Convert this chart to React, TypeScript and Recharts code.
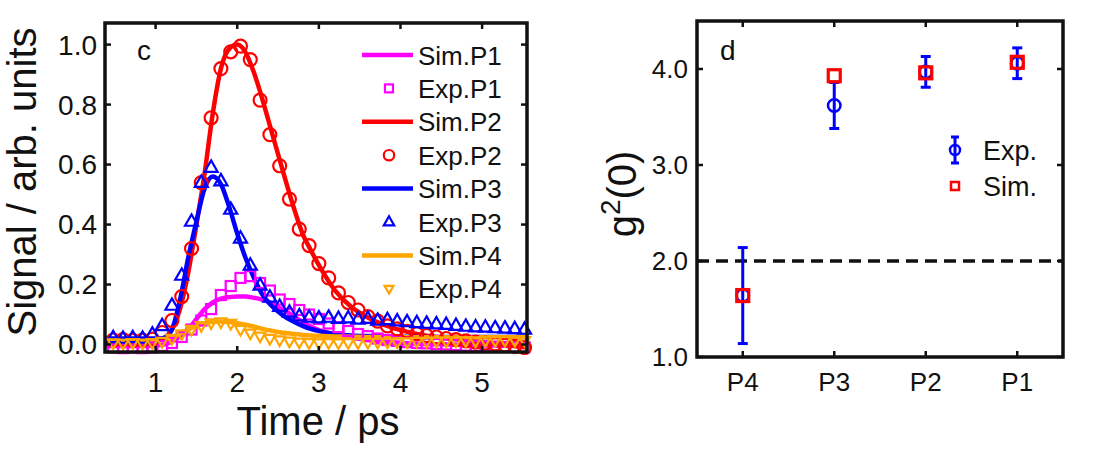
import React from "react";
import { ComposedChart, Line, Scatter, XAxis, YAxis, ReferenceLine, ErrorBar } from "recharts";

const FONT = '"Liberation Sans", Arial, Helvetica, sans-serif';
const INK = "#111";
const MAGENTA = "#ff00ff";
const RED = "#ff0000";
const BLUE = "#0000ff";
const ORANGE = "#ffa500";

// panel c: simulated traces (time in ps)
const simTime = [
  0.38, 0.8, 1.0, 1.1, 1.2, 1.3, 1.4, 1.5, 1.6, 1.7, 1.8, 1.9, 2.0, 2.1, 2.2, 2.3,
  2.4, 2.5, 2.6, 2.7, 2.8, 2.9, 3.0, 3.2, 3.4, 3.6, 3.8, 4.0, 4.3, 4.6, 5.0, 5.55,
];
const simP1 = [
  -0.005, -0.005, -0.003, 0, 0.01, 0.028, 0.05, 0.085, 0.118, 0.14, 0.153, 0.158,
  0.16, 0.16, 0.156, 0.15, 0.14, 0.125, 0.11, 0.092, 0.075, 0.06, 0.048, 0.033,
  0.022, 0.015, 0.01, 0.006, 0.002, 0, -0.003, -0.005,
];
const simP2 = [
  0.01, 0.01, 0.012, 0.02, 0.05, 0.12, 0.24, 0.4, 0.57, 0.77, 0.92, 0.985, 1.0,
  0.975, 0.91, 0.825, 0.73, 0.635, 0.54, 0.45, 0.37, 0.315, 0.265, 0.18, 0.125,
  0.09, 0.065, 0.048, 0.03, 0.02, 0.008, -0.01,
];
const simP3 = [
  0.02, 0.02, 0.02, 0.022, 0.05, 0.15, 0.29, 0.41, 0.52, 0.56, 0.535, 0.46, 0.37,
  0.29, 0.225, 0.17, 0.135, 0.11, 0.09, 0.075, 0.062, 0.052, 0.045, 0.035, 0.03,
  0.028, 0.027, 0.026, 0.025, 0.025, 0.025, 0.025,
];
const simP4 = [
  0.012, 0.012, 0.013, 0.016, 0.024, 0.036, 0.05, 0.062, 0.071, 0.076, 0.077,
  0.075, 0.071, 0.066, 0.06, 0.053, 0.047, 0.042, 0.038, 0.035, 0.032, 0.03,
  0.029, 0.027, 0.026, 0.025, 0.025, 0.025, 0.024, 0.024, 0.024, 0.024,
];

// panel c: measured traces
const expTime = [
  0.48, 0.6, 0.72, 0.84, 0.96, 1.08, 1.2, 1.32, 1.44, 1.56, 1.68, 1.8, 1.92, 2.04,
  2.16, 2.28, 2.4, 2.52, 2.64, 2.76, 2.88, 3.0, 3.12, 3.24, 3.36, 3.48, 3.6, 3.72,
  3.84, 3.96, 4.08, 4.2, 4.32, 4.44, 4.56, 4.68, 4.8, 4.92, 5.04, 5.16, 5.28, 5.4,
  5.52,
];
const expP1 = [
  -0.01, -0.012, -0.01, -0.012, -0.01, -0.005, 0.005, 0.025, 0.05, 0.08, 0.118,
  0.165, 0.195, 0.222, 0.228, 0.205, 0.18, 0.15, 0.135, 0.115, 0.1, 0.085, 0.07,
  0.058, 0.045, 0.035, 0.028, 0.02, 0.015, 0.012, 0.008, 0.005, 0.004, 0.002, 0,
  -0.002, -0.004, -0.005, -0.006, -0.007, -0.008, -0.008, -0.009,
];
const expP2 = [
  0.015, 0.016, 0.014, 0.015, 0.018, 0.04, 0.08, 0.16, 0.32, 0.54, 0.756, 0.92,
  0.976, 0.995, 0.95, 0.815, 0.7, 0.596, 0.485, 0.385, 0.33, 0.27, 0.222, 0.172,
  0.14, 0.115, 0.093, 0.078, 0.062, 0.052, 0.044, 0.036, 0.03, 0.025, 0.02,
  0.016, 0.012, 0.008, 0.005, 0.002, -0.002, -0.006, -0.01,
];
const expP3 = [
  0.022, 0.02, 0.022, 0.02, 0.034, 0.062, 0.13, 0.23, 0.41, 0.54, 0.59, 0.545,
  0.45, 0.354, 0.264, 0.197, 0.157, 0.126, 0.107, 0.095, 0.09, 0.088, 0.09,
  0.086, 0.088, 0.084, 0.086, 0.08, 0.082, 0.078, 0.075, 0.072, 0.07, 0.068,
  0.066, 0.063, 0.06, 0.058, 0.057, 0.055, 0.054, 0.052, 0.05,
];
const expP4 = [
  0.005, 0.004, 0.006, 0.004, 0.006, 0.01, 0.02, 0.035, 0.05, 0.063, 0.072, 0.075,
  0.07, 0.05, 0.038, 0.028, 0.02, 0.015, 0.011, 0.008, 0.006, 0.005, 0.006, 0.005,
  0.006, 0.006, 0.007, 0.007, 0.008, 0.008, 0.009, 0.01, 0.01, 0.011, 0.011,
  0.012, 0.012, 0.012, 0.013, 0.013, 0.013, 0.013, 0.013,
];

const timeDomain = [0.38, 5.55];
const signalDomain = [-0.025, 1.072];
const timeTicks = [1, 2, 3, 4, 5];
const signalTicks = [0, 0.2, 0.4, 0.6, 0.8, 1.0];

// panel d: g2(0) per peak
const peakLabels = ["P4", "P3", "P2", "P1"];
const g2Exp = [1.64, 3.62, 3.97, 4.06];
const g2ExpErr = [0.5, 0.24, 0.16, 0.16];
const g2Sim = [1.64, 3.93, 3.96, 4.07];
const peakDomain = [0.5, 4.5];
const g2Domain = [1, 4.5];
const g2Ticks = [1, 2, 3, 4];
const g2Classical = 2;

type MarkerKind = "circle" | "square" | "up" | "down";

const traces: {
  id: string;
  color: string;
  sim: number[];
  exp: number[];
  marker: MarkerKind;
  size: number;
}[] = [
  { id: "P1", color: MAGENTA, sim: simP1, exp: expP1, marker: "square", size: 10 },
  { id: "P2", color: RED, sim: simP2, exp: expP2, marker: "circle", size: 13 },
  { id: "P3", color: BLUE, sim: simP3, exp: expP3, marker: "up", size: 13 },
  { id: "P4", color: ORANGE, sim: simP4, exp: expP4, marker: "down", size: 11 },
];

const toPoints = (xs: number[], ys: number[]) => xs.map((t, i) => ({ t, v: ys[i] }));

function MarkerGlyph({
  cx,
  cy,
  kind,
  color,
  size,
  width = 2.2,
}: {
  cx: number;
  cy: number;
  kind: MarkerKind;
  color: string;
  size: number;
  width?: number;
}) {
  const h = size / 2;
  if (kind === "circle")
    return <circle cx={cx} cy={cy} r={h} fill="none" stroke={color} strokeWidth={width} />;
  if (kind === "square")
    return (
      <rect x={cx - h} y={cy - h} width={size} height={size} fill="none" stroke={color} strokeWidth={width} />
    );
  const dir = kind === "up" ? -1 : 1;
  const pts = [
    [cx, cy + dir * h * 1.1],
    [cx + h, cy - dir * h * 0.65],
    [cx - h, cy - dir * h * 0.65],
  ];
  return (
    <polygon
      points={pts.map((p) => p.join(",")).join(" ")}
      fill="none"
      stroke={color}
      strokeWidth={width}
    />
  );
}

const ROW = 33.4;

function TraceLegend({ x, y }: { x: number; y: number }) {
  return (
    <g transform={`translate(${x} ${y})`}>
      {traces.map((tr, i) => {
        const ys = i * 2 * ROW;
        const ye = ys + ROW;
        return (
          <g key={tr.id}>
            <line x1={0} x2={51} y1={ys} y2={ys} stroke={tr.color} strokeWidth={4.5} />
            <text x={56} y={ys + 9.5} fontSize={26} fill={INK}>
              Sim.{tr.id}
            </text>
            <MarkerGlyph cx={27} cy={ye} kind={tr.marker} color={tr.color} size={tr.size * 0.8} />
            <text x={56} y={ye + 9.5} fontSize={26} fill={INK}>
              Exp.{tr.id}
            </text>
          </g>
        );
      })}
    </g>
  );
}

function G2Legend({ x, y }: { x: number; y: number }) {
  return (
    <g transform={`translate(${x} ${y})`}>
      <line x1={0} x2={0} y1={-13} y2={13} stroke={BLUE} strokeWidth={3} />
      <line x1={-4} x2={4} y1={-13} y2={-13} stroke={BLUE} strokeWidth={3} />
      <line x1={-4} x2={4} y1={13} y2={13} stroke={BLUE} strokeWidth={3} />
      <circle cx={0} cy={0} r={5} fill="none" stroke={BLUE} strokeWidth={2.5} />
      <text x={28} y={10} fontSize={27} fill={INK}>
        Exp.
      </text>
      <rect x={-4} y={32} width={8} height={8} fill="none" stroke={RED} strokeWidth={2.5} />
      <text x={28} y={46} fontSize={27} fill={INK}>
        Sim.
      </text>
    </g>
  );
}

type Box = { left: number; top: number; right: number; bottom: number };

// MATLAB-style box: outline plus short inward ticks on all four sides,
// drawn in its own svg layered over the chart
function BoxFrame({
  width,
  height,
  box,
  xd,
  yd,
  xTicks,
  yTicks,
}: {
  width: number;
  height: number;
  box: Box;
  xd: number[];
  yd: number[];
  xTicks: number[];
  yTicks: number[];
}) {
  const sx = (v: number) => box.left + ((v - xd[0]) / (xd[1] - xd[0])) * (box.right - box.left);
  const sy = (v: number) => box.bottom - ((v - yd[0]) / (yd[1] - yd[0])) * (box.bottom - box.top);
  const len = 6;
  return (
    <svg
      width={width}
      height={height}
      style={{ position: "absolute", left: 0, top: 0, pointerEvents: "none", zIndex: 5 }}
    >
      {xTicks.map((v) => (
        <g key={`x${v}`}>
          <line x1={sx(v)} x2={sx(v)} y1={box.bottom} y2={box.bottom - len} stroke={INK} strokeWidth={2.5} />
          <line x1={sx(v)} x2={sx(v)} y1={box.top} y2={box.top + len} stroke={INK} strokeWidth={2.5} />
        </g>
      ))}
      {yTicks.map((v) => (
        <g key={`y${v}`}>
          <line x1={box.left} x2={box.left + len} y1={sy(v)} y2={sy(v)} stroke={INK} strokeWidth={2.5} />
          <line x1={box.right} x2={box.right - len} y1={sy(v)} y2={sy(v)} stroke={INK} strokeWidth={2.5} />
        </g>
      ))}
      <rect
        x={box.left}
        y={box.top}
        width={box.right - box.left}
        height={box.bottom - box.top}
        fill="none"
        stroke={INK}
        strokeWidth={3.5}
      />
    </svg>
  );
}

const tickTextC = { fontSize: 28, fill: INK };
const tickTextD = { fontSize: 26, fill: INK };

const boxC: Box = { left: 105, top: 23, right: 527, bottom: 352 };
const boxD: Box = { left: 137, top: 21, right: 503, bottom: 357 };

function SignalPanel() {
  return (
    <ComposedChart
      width={560}
      height={466}
      margin={{ top: boxC.top, right: 560 - boxC.right, bottom: 0, left: 0 }}
      style={{ fontFamily: FONT }}
    >
      <XAxis
        type="number"
        dataKey="t"
        domain={timeDomain}
        ticks={timeTicks}
        height={466 - boxC.bottom}
        tickSize={0}
        tickMargin={20}
        tick={tickTextC}
        tickLine={false}
        axisLine={false}
      />
      <YAxis
        type="number"
        dataKey="v"
        domain={signalDomain}
        ticks={signalTicks}
        tickFormatter={(v: number) => v.toFixed(1)}
        width={boxC.left}
        tickSize={0}
        tickMargin={8}
        tick={tickTextC}
        tickLine={false}
        axisLine={false}
      />
      {traces.map((tr) => [
        <Line
          key={`sim-${tr.id}`}
          data={toPoints(simTime, tr.sim)}
          dataKey="v"
          type="monotone"
          stroke={tr.color}
          strokeWidth={4.5}
          dot={false}
          activeDot={false}
          isAnimationActive={false}
        />,
        <Scatter
          key={`exp-${tr.id}`}
          data={toPoints(expTime, tr.exp)}
          dataKey="v"
          isAnimationActive={false}
          shape={(p: any) => (
            <MarkerGlyph cx={p.cx} cy={p.cy} kind={tr.marker} color={tr.color} size={tr.size} />
          )}
        />,
      ])}
      <text x={318} y={435} textAnchor="middle" fontSize={40} fill={INK}>
        Time / ps
      </text>
      <text x={35.5} y={182} transform="rotate(-90 35.5 182)" textAnchor="middle" fontSize={40} fill={INK}>
        Signal / arb. units
      </text>
      <text x={137} y={60} fontSize={28} fill={INK}>
        c
      </text>
      <TraceLegend x={362} y={55} />
    </ComposedChart>
  );
}

function G2Panel() {
  const expPts = peakLabels.map((_, i) => ({ x: i + 1, v: g2Exp[i], err: g2ExpErr[i] }));
  const simPts = peakLabels.map((_, i) => ({ x: i + 1, v: g2Sim[i] }));
  return (
    <ComposedChart
      width={541}
      height={466}
      margin={{ top: boxD.top, right: 541 - boxD.right, bottom: 0, left: 0 }}
      style={{ fontFamily: FONT }}
    >
      <XAxis
        type="number"
        dataKey="x"
        domain={peakDomain}
        ticks={g2Ticks}
        tickFormatter={(v: number) => peakLabels[v - 1]}
        height={466 - boxD.bottom}
        tickSize={0}
        tickMargin={16}
        tick={tickTextD}
        tickLine={false}
        axisLine={false}
      />
      <YAxis
        type="number"
        dataKey="v"
        domain={g2Domain}
        ticks={g2Ticks}
        tickFormatter={(v: number) => v.toFixed(1)}
        width={boxD.left}
        tickSize={0}
        tickMargin={9}
        tick={tickTextD}
        tickLine={false}
        axisLine={false}
      />
      <ReferenceLine y={g2Classical} stroke={INK} strokeWidth={3.5} strokeDasharray="12 7" />
      <Scatter
        data={expPts}
        dataKey="v"
        isAnimationActive={false}
        shape={(p: any) => <MarkerGlyph cx={p.cx} cy={p.cy} kind="circle" color={BLUE} size={12.5} width={2.5} />}
      >
        <ErrorBar dataKey="err" direction="y" width={5} stroke={BLUE} strokeWidth={3} />
      </Scatter>
      <Scatter
        data={simPts}
        dataKey="v"
        isAnimationActive={false}
        shape={(p: any) => <MarkerGlyph cx={p.cx} cy={p.cy} kind="square" color={RED} size={12} width={3.2} />}
      />
      <text x={76} y={194} transform="rotate(-90 76 194)" textAnchor="middle" fontSize={40} fill={INK}>
        g
        <tspan fontSize={28} dy={-16}>
          2
        </tspan>
        <tspan dy={16}>(0)</tspan>
      </text>
      <text x={160} y={60} fontSize={28} fill={INK}>
        d
      </text>
      <G2Legend x={395} y={150} />
    </ComposedChart>
  );
}

export default function App() {
  return (
    <div
      style={{
        position: "absolute",
        left: 0,
        top: 0,
        width: 1101,
        height: 466,
        background: "#fff",
        fontFamily: FONT,
      }}
    >
      <div style={{ position: "absolute", left: 0, top: 0, width: 560, height: 466 }}>
        <SignalPanel />
        <BoxFrame
          width={560}
          height={466}
          box={boxC}
          xd={timeDomain}
          yd={signalDomain}
          xTicks={timeTicks}
          yTicks={signalTicks}
        />
      </div>
      <div style={{ position: "absolute", left: 560, top: 0, width: 541, height: 466 }}>
        <G2Panel />
        <BoxFrame
          width={541}
          height={466}
          box={boxD}
          xd={peakDomain}
          yd={g2Domain}
          xTicks={g2Ticks}
          yTicks={g2Ticks}
        />
      </div>
    </div>
  );
}
